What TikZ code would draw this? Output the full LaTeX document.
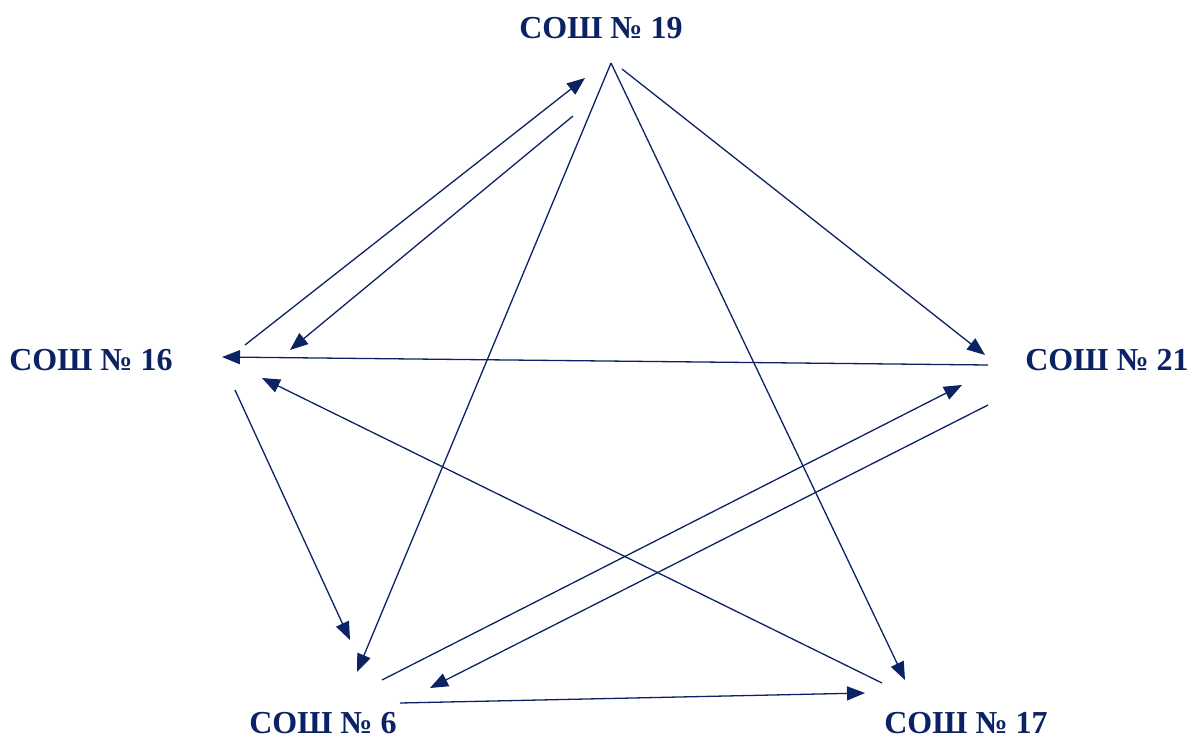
\documentclass[tikz,border=0pt]{standalone}
\usepackage{fontspec}
\setmainfont{Liberation Serif}
\usetikzlibrary{arrows.meta}
\definecolor{navy}{HTML}{0B2264}
\tikzset{
  school/.style={anchor=base, text=navy, font=\fontsize{32}{36}\selectfont\bfseries, inner sep=0pt},
  link/.style={draw=navy, line width=1.3pt, -{Triangle[length=18pt,width=14pt]}}
}
\begin{document}
\begin{tikzpicture}[x=1pt,y=-1pt]
    \useasboundingbox (0,0) rectangle (1190,738);

    % Schools
    \node[school] (s19) at (601,39) {СОШ № 19};
    \node[school] (s16) at (91,370) {СОШ № 16};
    \node[school] (s21) at (1107,370) {СОШ № 21};
    \node[school] (s6) at (323,733) {СОШ № 6};
    \node[school] (s17) at (966,733) {СОШ № 17};

    % Line ends
    \coordinate (s19a) at (585,78);
    \coordinate (s19b) at (573,116);
    \coordinate (s19c) at (611,63);
    \coordinate (s19d) at (622,69);
    \coordinate (s16a) at (245,345);
    \coordinate (s16b) at (290,350);
    \coordinate (s16c) at (222,357);
    \coordinate (s16d) at (262,378);
    \coordinate (s16e) at (235,390);
    \coordinate (s21a) at (985,355);
    \coordinate (s21b) at (988,365);
    \coordinate (s21c) at (962,385);
    \coordinate (s21d) at (988,405);
    \coordinate (s6a) at (350,640);
    \coordinate (s6b) at (357,672);
    \coordinate (s6c) at (382,680);
    \coordinate (s6d) at (430,688);
    \coordinate (s6e) at (400,703);
    \coordinate (s17a) at (905,680);
    \coordinate (s17b) at (882,683);
    \coordinate (s17c) at (865,693);

    % Links
    \draw[link] (s16a) -- (s19a);
    \draw[link] (s19b) -- (s16b);
    \draw[link] (s19c) -- (s6b);
    \draw[link] (s19c) -- (s17a);
    \draw[link] (s19d) -- (s21a);
    \draw[link] (s21b) -- (s16c);
    \draw[link] (s16e) -- (s6a);
    \draw[link] (s17b) -- (s16d);
    \draw[link] (s6c) -- (s21c);
    \draw[link] (s21d) -- (s6d);
    \draw[link] (s6e) -- (s17c);
\end{tikzpicture}
\end{document}
